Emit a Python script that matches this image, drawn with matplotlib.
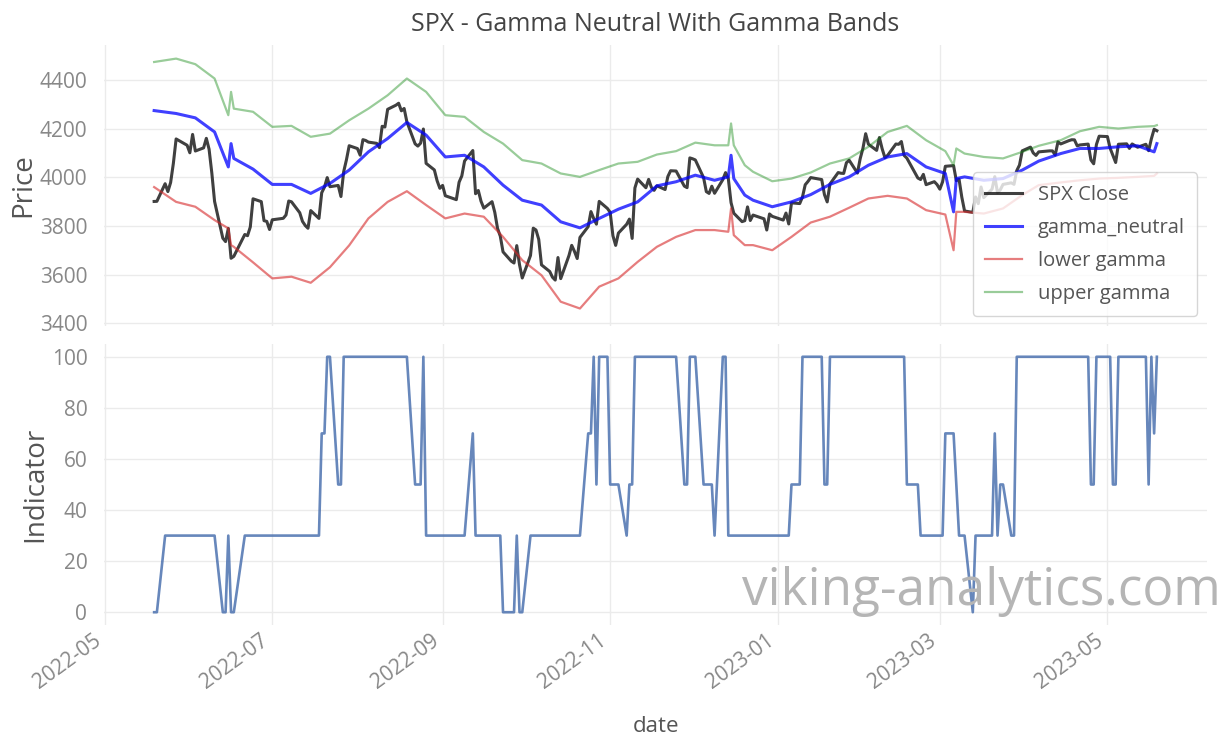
import numpy as np
import pandas as pd
import matplotlib
matplotlib.use("Agg")
import matplotlib.pyplot as plt
import matplotlib.dates as mdates

plt.rcParams['font.family'] = ['Open Sans', 'DejaVu Sans']

# trading days 2022-05-19 .. 2023-05-19
holidays = ['2022-05-30', '2022-06-20', '2022-07-04', '2022-09-05', '2022-11-24',
            '2022-12-26', '2023-01-02', '2023-01-16', '2023-02-20', '2023-04-07']
trade_days = pd.bdate_range('2022-05-19', '2023-05-19')
trade_days = trade_days[~trade_days.isin(pd.to_datetime(holidays))]

spx_close = [
    # May 2022
    3900.8, 3901.4, 3973.8, 3941.5, 3978.7, 4057.8, 4158.2, 4132.2,
    # Jun
    4101.2, 4176.8, 4108.5, 4121.4, 4160.7, 4115.8, 4017.8, 3900.9, 3749.6, 3735.5,
    3790.0, 3666.8, 3674.8, 3764.8, 3759.9, 3795.7, 3911.7, 3900.1, 3821.6, 3818.8, 3785.4,
    # Jul
    3825.3, 3831.4, 3845.1, 3902.6, 3899.4, 3854.4, 3818.8, 3801.8, 3790.4, 3863.2,
    3830.9, 3936.7, 3959.9, 3999.0, 3961.6, 3966.8, 3921.1, 4023.6, 4072.4, 4130.3,
    # Aug
    4118.6, 4091.2, 4155.2, 4151.9, 4145.2, 4140.1, 4122.5, 4210.2, 4207.3, 4280.2,
    4297.1, 4305.2, 4274.0, 4283.7, 4228.5, 4138.0, 4128.7, 4140.8, 4199.1, 4057.7,
    4030.6, 3986.2, 3955.0,
    # Sep
    3966.9, 3924.3, 3908.2, 3979.9, 4006.2, 4067.4, 4110.4, 3932.7, 3946.0, 3901.4,
    3873.3, 3899.9, 3855.9, 3789.9, 3758.0, 3693.2, 3655.0, 3647.3, 3719.0, 3640.5, 3585.6,
    # Oct
    3678.4, 3790.9, 3783.3, 3744.5, 3639.7, 3612.4, 3588.8, 3577.0, 3669.9, 3583.1,
    3678.0, 3720.0, 3695.2, 3665.8, 3752.8, 3797.3, 3859.1, 3830.6, 3807.3, 3901.1, 3872.0,
    # Nov
    3856.1, 3759.7, 3719.9, 3770.6, 3806.8, 3828.1, 3748.6, 3956.4, 3992.9, 3957.3,
    3991.7, 3958.8, 3946.6, 3965.3, 3949.9, 4003.6, 4027.3, 4026.1, 3963.9, 3957.6, 4080.1,
    # Dec
    4076.6, 4071.7, 3998.8, 3941.3, 3933.9, 3963.5, 3934.4, 3990.6, 4019.7, 3995.3,
    3895.8, 3852.4, 3817.7, 3821.6, 3878.4, 3822.4, 3844.8, 3829.3, 3783.2, 3849.3, 3839.5,
    # Jan 2023
    3824.1, 3853.0, 3808.1, 3895.1, 3892.1, 3919.3, 3969.6, 3983.2, 3999.1, 3991.0,
    3928.9, 3898.9, 3972.6, 4019.8, 4017.0, 4016.2, 4060.4, 4070.6, 4017.8, 4076.6,
    # Feb
    4119.2, 4179.8, 4136.5, 4111.1, 4164.0, 4117.9, 4081.5, 4090.5, 4137.3, 4136.1,
    4147.6, 4090.4, 4079.1, 3997.3, 3991.1, 4012.3, 3970.0, 3982.2, 3970.2,
    # Mar
    3951.4, 3981.4, 4045.6, 4048.4, 3986.4, 3992.0, 3918.3, 3861.6, 3855.8, 3919.3,
    3891.9, 3960.3, 3916.6, 3951.6, 4002.9, 3937.0, 3948.7, 3971.0, 3977.5, 3971.3,
    4027.8, 4050.8, 4109.3,
    # Apr
    4124.5, 4100.6, 4090.4, 4105.0, 4109.1, 4108.9, 4092.0, 4146.2, 4137.6, 4151.3,
    4154.9, 4154.5, 4129.8, 4133.5, 4137.0, 4071.6, 4056.0, 4135.4, 4169.5,
    # May
    4167.9, 4119.6, 4090.8, 4061.2, 4136.3, 4138.1, 4119.2, 4137.6, 4130.6, 4124.1,
    4136.3, 4109.9, 4158.8, 4198.1, 4192.0,
]

indicator = [
    # May 2022
    0, 0, 30, 30, 30, 30, 30, 30,
    # Jun
    30, 30, 30, 30, 30, 30, 30, 30, 0, 0, 30, 0, 0, 30, 30, 30, 30, 30, 30, 30, 30,
    # Jul
    30, 30, 30, 30, 30, 30, 30, 30, 30, 30, 30, 70, 70, 100, 100, 50, 50, 100, 100, 100,
    # Aug
    100, 100, 100, 100, 100, 100, 100, 100, 100, 100, 100, 100, 100, 100, 100,
    50, 50, 50, 100, 30, 30, 30, 30,
    # Sep
    30, 30, 30, 30, 30, 30, 70, 30, 30, 30, 30, 30, 30, 30, 30, 0, 0, 0, 30, 0, 0,
    # Oct
    30, 30, 30, 30, 30, 30, 30, 30, 30, 30, 30, 30, 30, 30, 30, 70, 70, 100, 50, 100, 100,
    # Nov
    50, 50, 50, 50, 30, 50, 50, 100, 100, 100, 100, 100, 100, 100, 100, 100, 100, 100,
    50, 50, 100,
    # Dec
    100, 100, 50, 50, 50, 50, 30, 100, 100, 30, 30, 30, 30, 30, 30, 30, 30, 30, 30, 30, 30,
    # Jan 2023
    30, 30, 30, 50, 50, 100, 100, 100, 100, 100, 50, 50, 100, 100, 100, 100, 100, 100,
    100, 100,
    # Feb
    100, 100, 100, 100, 100, 100, 100, 100, 100, 100, 100, 100, 50, 50, 30, 30, 30, 30, 30,
    # Mar
    30, 30, 70, 70, 50, 30, 30, 30, 0, 30, 30, 30, 30, 30, 70, 30, 50, 50, 30, 30,
    100, 100, 100,
    # Apr
    100, 100, 100, 100, 100, 100, 100, 100, 100, 100, 100, 100, 100, 100, 100, 50, 50,
    100, 100,
    # May
    100, 100, 50, 50, 100, 100, 100, 100, 100, 100, 100, 50, 100, 70, 100,
]

band_dates = [
    '2022-05-19', '2022-05-27', '2022-06-03', '2022-06-10', '2022-06-15', '2022-06-16',
    '2022-06-17', '2022-06-24', '2022-07-01', '2022-07-08', '2022-07-15', '2022-07-22',
    '2022-07-29', '2022-08-05', '2022-08-12', '2022-08-19', '2022-08-26', '2022-09-02',
    '2022-09-09', '2022-09-16', '2022-09-23', '2022-09-30', '2022-10-07', '2022-10-14',
    '2022-10-21', '2022-10-28', '2022-11-04', '2022-11-11', '2022-11-18', '2022-11-25',
    '2022-12-02', '2022-12-09', '2022-12-14', '2022-12-15', '2022-12-16', '2022-12-20',
    '2022-12-23', '2022-12-30', '2023-01-06', '2023-01-13', '2023-01-20', '2023-01-27',
    '2023-02-03', '2023-02-10', '2023-02-17', '2023-02-24', '2023-03-03', '2023-03-06',
    '2023-03-07', '2023-03-10', '2023-03-17', '2023-03-24', '2023-03-31', '2023-04-06',
    '2023-04-14', '2023-04-21', '2023-04-28', '2023-05-05', '2023-05-12', '2023-05-18',
    '2023-05-19',
]
gamma_neutral = [
    4275, 4263, 4245, 4187, 4043, 4139, 4078, 4034, 3971, 3971, 3934, 3975,
    4030, 4105, 4160, 4226, 4174, 4084, 4091, 4043, 3968, 3906, 3886, 3817,
    3792, 3831, 3869, 3899, 3965, 3982, 4009, 3988, 4002, 4091, 3995, 3927,
    3906, 3879, 3899, 3929, 3971, 4002, 4050, 4084, 4098, 4043, 4016, 3858,
    3995, 4002, 3988, 3995, 4030, 4067, 4098, 4119, 4119, 4126, 4130, 4105,
    4139,
]
lower_gamma = [
    3960, 3899, 3879, 3824, 3790, 3721, 3714, 3650, 3584, 3591, 3566, 3630,
    3720, 3831, 3899, 3943, 3886, 3831, 3851, 3838, 3755, 3659, 3597, 3488,
    3460, 3550, 3584, 3652, 3714, 3755, 3783, 3783, 3776, 3872, 3762, 3721,
    3721, 3700, 3755, 3814, 3838, 3875, 3913, 3924, 3913, 3865, 3847, 3700,
    3858, 3858, 3851, 3872, 3927, 3968, 3979, 3988, 3995, 3998, 4002, 4006,
    4016,
]
upper_gamma = [
    4475, 4489, 4466, 4407, 4256, 4352, 4283, 4270, 4208, 4212, 4167, 4180,
    4235, 4283, 4338, 4407, 4352, 4256, 4249, 4187, 4139, 4071, 4057, 4016,
    4002, 4030, 4057, 4064, 4094, 4108, 4143, 4132, 4132, 4222, 4132, 4050,
    4023, 3984, 3995, 4020, 4057, 4078, 4126, 4187, 4212, 4153, 4108, 4050,
    4119, 4098, 4084, 4078, 4105, 4130, 4153, 4190, 4208, 4201, 4208, 4211,
    4215,
]

band_idx = pd.to_datetime(band_dates)

text_dark = '#444444'
text_mid = '#555555'
text_tick = '#888888'
grid_col = '#ebebeb'

fig = plt.figure(figsize=(12.22, 7.38), dpi=100)
fig.patch.set_facecolor('white')
ax1 = fig.add_axes([104 / 1222, 412 / 738, 1103 / 1222, 281 / 738])
ax2 = fig.add_axes([104 / 1222, 113 / 738, 1103 / 1222, 281 / 738], sharex=ax1)

ax1.plot(trade_days, spx_close, color='black', alpha=0.75, lw=2.2, label='SPX Close')
ax1.plot(band_idx, gamma_neutral, color='blue', alpha=0.75, lw=2.2, label='gamma_neutral')
ax1.plot(band_idx, lower_gamma, color='#d62728', alpha=0.6, lw=1.6, label='lower gamma')
ax1.plot(band_idx, upper_gamma, color='green', alpha=0.4, lw=1.6, label='upper gamma')

ax2.plot(trade_days, indicator, color='#4c72b0', alpha=0.85, lw=1.9)

ax1.set_ylim(3388, 4545)
ax1.set_yticks([3400, 3600, 3800, 4000, 4200, 4400])
ax2.set_ylim(-5, 105)
ax2.set_yticks([0, 20, 40, 60, 80, 100])

ax2.xaxis.set_major_locator(mdates.MonthLocator(bymonth=[1, 3, 5, 7, 9, 11]))
ax2.xaxis.set_major_formatter(mdates.DateFormatter('%Y-%m'))

for ax in (ax1, ax2):
    ax.grid(True, color=grid_col, lw=1)
    ax.set_axisbelow(True)
    for s in ax.spines.values():
        s.set_visible(False)
    ax.tick_params(length=0, labelsize=15, colors=text_tick)
    ax.tick_params(axis='y', pad=12)
    ax.tick_params(axis='x', pad=4)

ax1.tick_params(axis='x', labelbottom=False)
plt.setp(ax2.get_xticklabels(), rotation=36, ha='right', rotation_mode='default')

ax1.set_ylabel('Price', fontsize=20, color=text_mid, labelpad=2)
ax2.set_ylabel('Indicator', fontsize=20, color=text_mid, labelpad=2)
ax2.set_xlabel('date', fontsize=16, color=text_mid, labelpad=16)
ax1.set_title('SPX - Gamma Neutral With Gamma Bands', fontsize=18, color=text_dark, pad=10)

leg = ax1.legend(loc='lower right', fontsize=14.5, frameon=True, labelspacing=0.65,
                 borderpad=0.6, handlelength=1.8)
for t in leg.get_texts():
    t.set_color(text_mid)

fig.text(0.607, 0.198, 'viking-analytics.com', fontsize=37, color='#b5b5b5',
         va='center', ha='left')

fig.savefig('out.png', dpi=100)
